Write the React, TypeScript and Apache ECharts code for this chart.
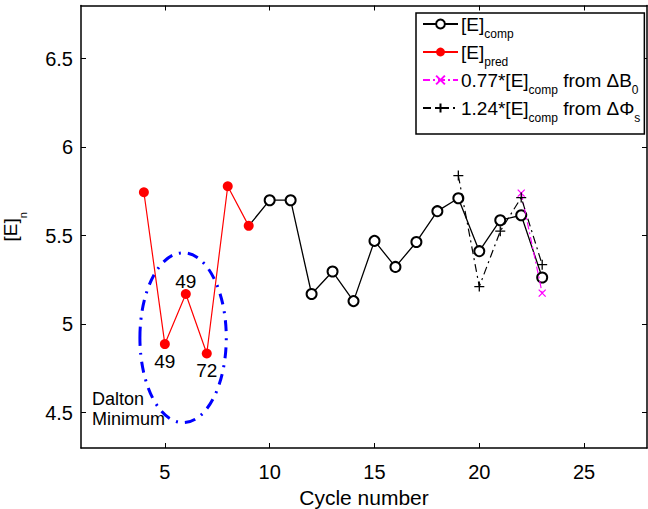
import React, { useEffect, useRef } from "react";
import * as echarts from "echarts";

// ---- data ----
const predCycles = [4, 5, 6, 7, 8, 9];
const predValues = [5.745, 4.887, 5.17, 4.834, 5.779, 5.555];
const predNotes = ["", "49", "49", "72", "", ""];
const predNoteSide = ["", "bottom", "top", "bottom", "", ""];

const compCycles = [9, 10, 11, 12, 13, 14, 15, 16, 17, 18, 19, 20, 21, 22, 23];
const compValues = [5.555, 5.7, 5.7, 5.17, 5.297, 5.13, 5.47, 5.323, 5.464, 5.638, 5.711, 5.412, 5.587, 5.615, 5.263];

const b0Cycles = [22, 23];
const b0Values = [5.74, 5.175];

const phiCycles = [19, 20, 21, 22, 23];
const phiValues = [5.839, 5.212, 5.525, 5.715, 5.336];

const xTicks = [5, 10, 15, 20, 25];
const yTicks = [4.5, 5, 5.5, 6, 6.5];

const daltonCenter = [5.87, 4.923];
const daltonRadii = [2.06, 0.48];

const FONT = "Liberation Sans, Arial, sans-serif";

const legendLabels: Record<string, string> = {
  comp: "[E]{s|comp}",
  pred: "[E]{s|pred}",
  b0: "0.77*[E]{s|comp} from ΔB{s|0}",
  phi: "1.24*[E]{s|comp} from ΔΦ{s|s}",
};

const XMARK = "path://M0,0L10,10M10,0L0,10";
const PLUS = "path://M5,0L5,10M0,5L10,5";

export default function App() {
  const ref = useRef<HTMLDivElement>(null);
  useEffect(() => {
    if (!ref.current) return;
    const chart = echarts.init(ref.current, undefined, { renderer: "svg" });
    const axisCommon = {
      axisLine: { show: true, onZero: false, lineStyle: { color: "#000", width: 1.5 } },
      splitLine: { show: false },
    };
    chart.setOption({
      animation: false,
      backgroundColor: "#fff",
      grid: { left: 81, right: 1, top: 5.5, bottom: 61, containLabel: false, outerBoundsMode: "none" },
      xAxis: [
        {
          type: "value",
          min: 1,
          max: 28,
          ...axisCommon,
          axisTick: { show: true, inside: true, length: 5, customValues: xTicks, lineStyle: { color: "#000", width: 1 } },
          axisLabel: { show: true, customValues: xTicks, color: "#000", fontSize: 20, fontFamily: FONT, margin: 14 },
          name: "Cycle number",
          nameLocation: "middle",
          nameGap: 33,
          nameTextStyle: { color: "#000", fontSize: 21, fontFamily: FONT },
        },
        {
          type: "value",
          position: "top",
          min: 1,
          max: 28,
          ...axisCommon,
          axisTick: { show: true, inside: true, length: 5, customValues: xTicks, lineStyle: { color: "#000", width: 1 } },
          axisLabel: { show: false },
        },
      ],
      yAxis: [
        {
          type: "value",
          min: 4.3,
          max: 6.8,
          ...axisCommon,
          axisTick: { show: true, inside: true, length: 5, customValues: yTicks, lineStyle: { color: "#000", width: 1 } },
          axisLabel: { show: true, customValues: yTicks, color: "#000", fontSize: 20, fontFamily: FONT, margin: 8 },
          name: "[E]{s|n}",
          nameLocation: "middle",
          nameGap: 59,
          nameRotate: 90,
          nameTextStyle: {
            color: "#000",
            fontSize: 19,
            fontFamily: FONT,
            lineHeight: 24,
            rich: {
              s: { fontSize: 11, lineHeight: 2, verticalAlign: "top", padding: [19, 0, 0, 0], fontFamily: FONT, color: "#000" },
            },
          },
        },
        {
          type: "value",
          position: "right",
          min: 4.3,
          max: 6.8,
          ...axisCommon,
          axisTick: { show: true, inside: true, length: 5, customValues: yTicks, lineStyle: { color: "#000", width: 1 } },
          axisLabel: { show: false },
        },
      ],
      legend: {
        orient: "vertical",
        left: 416,
        top: 13,
        data: ["comp", "pred", "b0", "phi"],
        itemWidth: 35,
        itemHeight: 11,
        itemGap: 1,
        padding: [0, 4, 10, 6],
        borderColor: "#000",
        borderWidth: 1.5,
        backgroundColor: "#fff",
        selectedMode: false,
        formatter: (name: string) => legendLabels[name],
        textStyle: {
          color: "#000",
          fontSize: 19,
          fontFamily: FONT,
          lineHeight: 22,
          padding: [0, 0, 0, -2],
          rich: {
            s: { fontSize: 12, lineHeight: 2, verticalAlign: "top", padding: [15, 0, 0, 0], fontFamily: FONT, color: "#000" },
          },
        },
      },
      graphic: [
        {
          type: "text",
          left: 92,
          top: 389,
          z: 10,
          style: { text: "Dalton\nMinimum", fontSize: 18, fontFamily: FONT, fill: "#000", lineHeight: 20 },
        },
      ],
      series: [
        {
          type: "custom",
          silent: true,
          z: 1,
          data: [daltonCenter],
          renderItem: (_p: any, api: any) => {
            const c = api.coord(daltonCenter);
            const s = api.size(daltonRadii);
            return {
              type: "ellipse",
              shape: { cx: c[0], cy: c[1], rx: s[0], ry: s[1] },
              style: { fill: "none", stroke: "#0000ff", lineWidth: 3, lineDash: [11, 7, 2, 7] },
            };
          },
        },
        {
          name: "comp",
          type: "line",
          z: 3,
          data: compCycles.map((c, i) =>
            i === 0 ? { value: [c, compValues[i]], symbol: "none" } : [c, compValues[i]]
          ),
          symbol: "emptyCircle",
          symbolSize: 10,
          lineStyle: { color: "#000", width: 1.3 },
          itemStyle: { color: "#000", borderColor: "#000", borderWidth: 1.2 },
        },
        {
          name: "pred",
          type: "line",
          z: 4,
          data: predCycles.map((c, i) => ({
            value: [c, predValues[i]],
            label: predNotes[i]
              ? {
                  show: true,
                  formatter: predNotes[i],
                  position: predNoteSide[i],
                  distance: predNoteSide[i] === "top" ? -2 : 3,
                  color: "#000",
                  fontSize: 19,
                  fontFamily: FONT,
                }
              : { show: false },
          })),
          symbol: "circle",
          symbolSize: 10,
          lineStyle: { color: "#ff0000", width: 1.2 },
          itemStyle: { color: "#ff0000" },
        },
        {
          name: "b0",
          type: "line",
          z: 5,
          data: b0Cycles.map((c, i) => [c, b0Values[i]]),
          symbol: XMARK,
          symbolSize: 7,
          lineStyle: { color: "#ff00ff", width: 1.2, type: [7, 3, 2, 3] },
          itemStyle: { color: "#ff00ff", borderColor: "#ff00ff", borderWidth: 1.3 },
        },
        {
          name: "phi",
          type: "line",
          z: 5,
          data: phiCycles.map((c, i) => [c, phiValues[i]]),
          symbol: PLUS,
          symbolSize: 10,
          lineStyle: { color: "#000", width: 1.2, type: [8, 4, 2, 4] },
          itemStyle: { color: "#000", borderColor: "#000", borderWidth: 1.3 },
        },
      ],
    });
    return () => chart.dispose();
  }, []);
  return (
    <div
      ref={ref}
      style={{ position: "absolute", left: 0, top: 0, width: 648, height: 509, background: "#fff" }}
    />
  );
}
